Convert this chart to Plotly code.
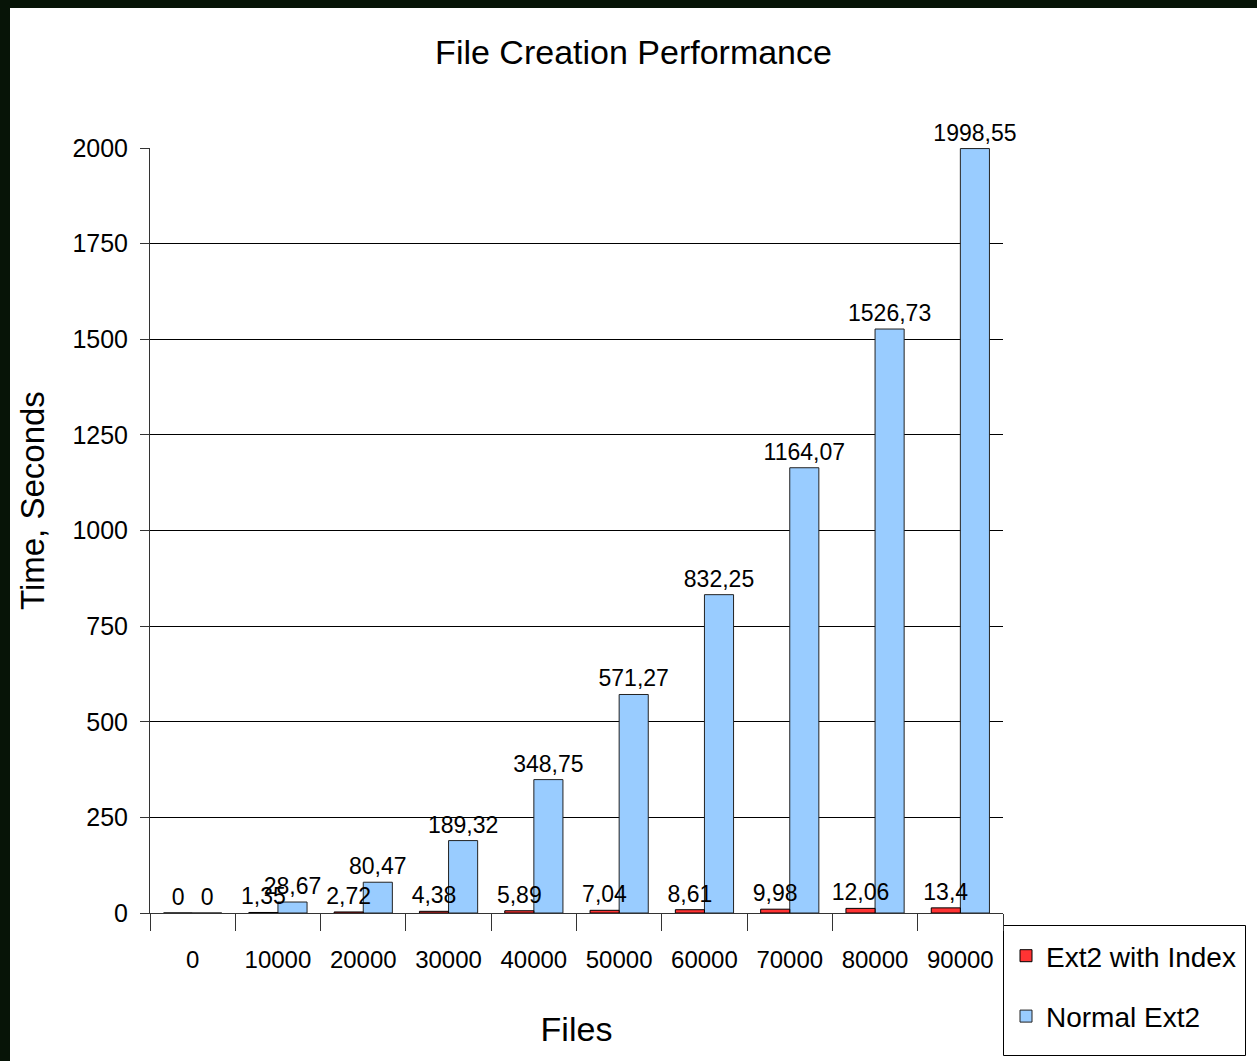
import plotly.graph_objects as go

files = ["0", "10000", "20000", "30000", "40000", "50000", "60000", "70000", "80000", "90000"]
ext2_index = [0, 1.35, 2.72, 4.38, 5.89, 7.04, 8.61, 9.98, 12.06, 13.4]
normal_ext2 = [0, 28.67, 80.47, 189.32, 348.75, 571.27, 832.25, 1164.07, 1526.73, 1998.55]
y_ticks = [0, 250, 500, 750, 1000, 1250, 1500, 1750, 2000]


def fmt(v):
    return f"{v:g}".replace(".", ",")


FONT = "Liberation Sans, Arial, sans-serif"
BAR_W = 29 / 85

fig = go.Figure()
# blue drawn first so red labels stay visible on top
fig.add_trace(go.Bar(
    x=files, y=normal_ext2, name="Normal Ext2",
    width=BAR_W, offset=0,
    marker=dict(color="#99ccff", line=dict(color="#222222", width=1)),
    text=[fmt(v) for v in normal_ext2], textposition="outside",
    textfont=dict(size=23, color="black", family=FONT),
    cliponaxis=False, constraintext="none", legendgroup="b", legendrank=2,
))
fig.add_trace(go.Bar(
    x=files, y=ext2_index, name="Ext2 with Index",
    width=BAR_W, offset=-BAR_W,
    marker=dict(color="#ff3333", line=dict(color="#000000", width=1)),
    text=[fmt(v) for v in ext2_index], textposition="outside",
    textfont=dict(size=23, color="black", family=FONT),
    cliponaxis=False, constraintext="none", legendgroup="a", legendrank=1,
))

W, H = 1257, 1061
ml, mr, mt, mb = 150, 254, 148, 148
pw, ph = W - ml - mr, H - mt - mb


def px_x(p):
    return (p - ml) / pw


def px_y(p):
    return (H - mb - p) / ph


fig.update_layout(
    width=W, height=H, autosize=False,
    margin=dict(l=ml, r=mr, t=mt, b=mb, pad=0, autoexpand=False),
    paper_bgcolor="#071407",
    plot_bgcolor="white",
    font=dict(family=FONT, color="black"),
    barmode="overlay",
    title=dict(text="File Creation Performance", x=0.504, xanchor="center",
               y=1 - 52 / H, yanchor="middle",
               font=dict(size=34, family=FONT, color="black")),
    showlegend=True,
    legend=dict(x=px_x(1006), y=px_y(931), xanchor="left", yanchor="top",
                borderwidth=0, bgcolor="rgba(0,0,0,0)",
                font=dict(size=28, family=FONT, color="black"),
                traceorder="grouped", tracegroupgap=21),
    shapes=[
        dict(type="rect", xref="paper", yref="paper",
             x0=px_x(10), x1=px_x(1300), y0=px_y(1100), y1=px_y(8),
             fillcolor="white", line=dict(width=0), layer="below"),
        dict(type="rect", xref="paper", yref="paper",
             x0=px_x(1003.5), x1=px_x(1245.5), y0=px_y(1055.5), y1=px_y(925.5),
             fillcolor="white", line=dict(width=1, color="black"), layer="below"),
    ],
    annotations=[dict(text="Time, Seconds", xref="paper", yref="paper",
                      x=px_x(32), y=px_y(501), xanchor="center", yanchor="middle",
                      textangle=-90, showarrow=False,
                      font=dict(size=33, family=FONT, color="black"))],
    xaxis=dict(
        type="category", tickson="boundaries", ticks="outside", ticklen=17,
        tickcolor="#333333", tickwidth=1, showline=True, linecolor="#333333",
        linewidth=1, showgrid=False, tickangle=0,
        tickfont=dict(size=24, family=FONT, color="black"),
        ticklabelstandoff=25,
        title=dict(text="Files", font=dict(size=34, family=FONT, color="black"),
                   standoff=45),
    ),
    yaxis=dict(
        range=[0, 2000], tickvals=y_ticks, ticktext=[str(v) for v in y_ticks],
        ticks="outside", ticklen=9, tickcolor="#333333", showline=True,
        linecolor="#333333", linewidth=1, showgrid=True, gridcolor="#000000",
        gridwidth=1, zeroline=False,
        tickfont=dict(size=25, family=FONT, color="black"),
        ticklabelstandoff=7,
    ),
)

fig.write_html("out.html")
